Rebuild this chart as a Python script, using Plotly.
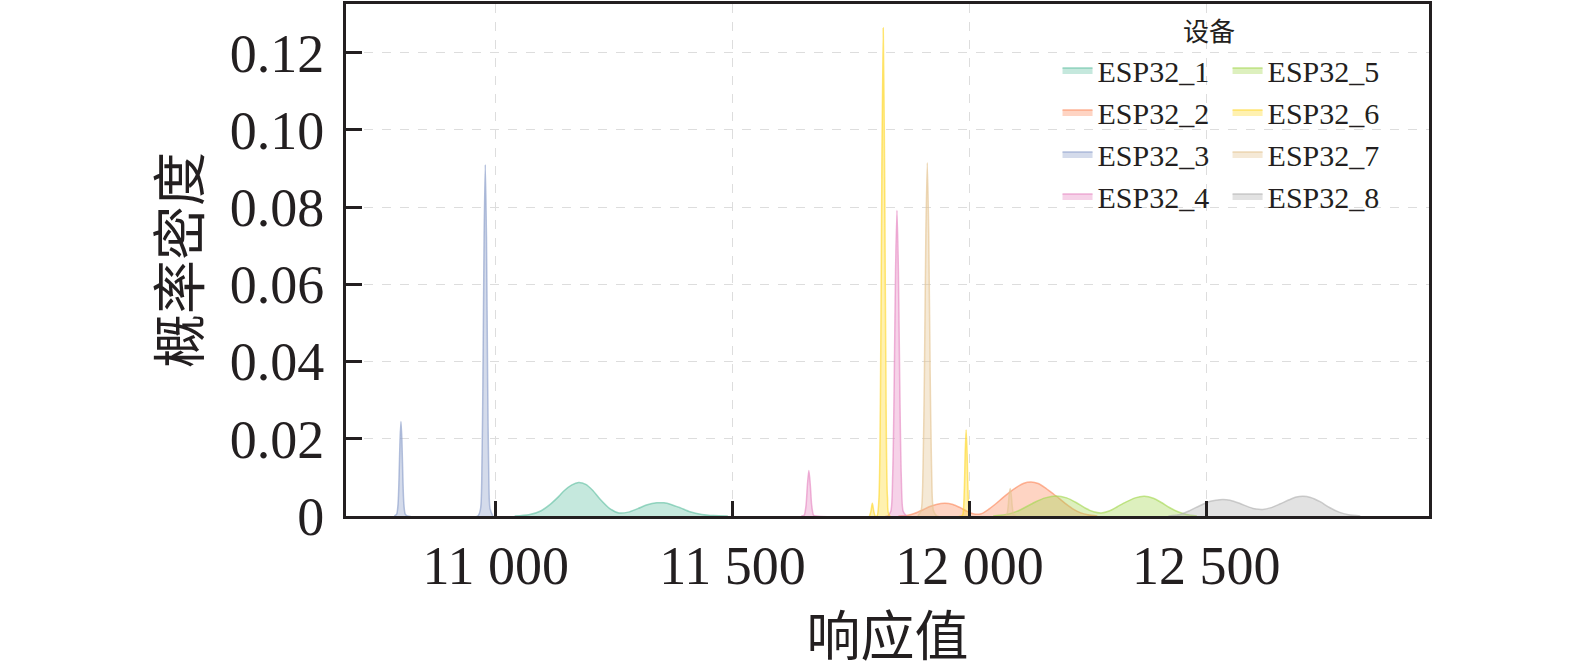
import plotly.graph_objects as go

# ---------------- data ----------------
devices = ["ESP32_1", "ESP32_2", "ESP32_3", "ESP32_4",
           "ESP32_5", "ESP32_6", "ESP32_7", "ESP32_8"]
colors = ["#66c2a5", "#fc8d62", "#8da0cb", "#e78ac3",
          "#a6d854", "#ffd92f", "#e5c494", "#b3b3b3"]

x_ticks = [11000, 11500, 12000, 12500]
x_tick_text = ["11 000", "11 500", "12 000", "12 500"]
y_ticks = [0, 0.02, 0.04, 0.06, 0.08, 0.10, 0.12]
y_tick_text = ["0", "0.02", "0.04", "0.06", "0.08", "0.10", "0.12"]

esp1_x = [11040, 11070, 11095, 11115, 11130, 11145, 11160, 11175, 11190, 11205, 11220, 11240,
          11260, 11280, 11300, 11320, 11340, 11355, 11370, 11390, 11410, 11435, 11460, 11490]
esp1_y = [0, 0.0003, 0.0013, 0.0030, 0.0047, 0.0066, 0.0080, 0.0087, 0.0082, 0.0066, 0.0044, 0.0020,
          0.0008, 0.0010, 0.0019, 0.0029, 0.0034, 0.0034, 0.0030, 0.0021, 0.0011, 0.0004, 0.0001, 0]

esp2_x = [11850, 11870, 11885, 11900, 11915, 11930, 11948, 11965, 11980, 11995, 12010, 12025,
          12040, 12055, 12070, 12085, 12100, 12115, 12130, 12145, 12160, 12175, 12190, 12205,
          12220, 12235, 12250, 12270]
esp2_y = [0, 0.0002, 0.0007, 0.0015, 0.0024, 0.0030, 0.0033, 0.0030, 0.0022, 0.0012, 0.0005, 0.0006,
          0.0017, 0.0031, 0.0047, 0.0062, 0.0075, 0.0085, 0.0088, 0.0084, 0.0073, 0.0059, 0.0045, 0.0030,
          0.0017, 0.0008, 0.0003, 0]

esp3_x = [10786, 10791, 10794, 10796, 10798, 10800, 10802, 10804, 10806, 10809, 10814,
          10962, 10968, 10971, 10973, 10975.5, 10978, 10980.5, 10983, 10985, 10988, 10994]
esp3_y = [0, 0.0005, 0.0033, 0.0100, 0.0196, 0.0245, 0.0196, 0.0100, 0.0033, 0.0005, 0,
          0, 0.0019, 0.0137, 0.0346, 0.0720, 0.0910, 0.0720, 0.0346, 0.0137, 0.0019, 0]

esp4_x = [11645, 11651, 11655, 11658, 11661, 11664, 11667, 11671, 11677,
          11827, 11834, 11838, 11841, 11844, 11847, 11850, 11853, 11856, 11860, 11867]
esp4_y = [0, 0.0002, 0.0027, 0.0081, 0.0118, 0.0081, 0.0027, 0.0002, 0,
          0, 0.0012, 0.0107, 0.0325, 0.0634, 0.0792, 0.0634, 0.0325, 0.0107, 0.0012, 0]

esp5_x = [12050, 12075, 12100, 12120, 12140, 12160, 12183, 12205, 12225, 12245, 12262, 12278,
          12295, 12312, 12330, 12350, 12369, 12388, 12405, 12422, 12440, 12458, 12480]
esp5_y = [0, 0.0003, 0.0012, 0.0024, 0.0037, 0.0047, 0.0052, 0.0047, 0.0035, 0.0020, 0.0011, 0.0008,
          0.0013, 0.0024, 0.0036, 0.0047, 0.0051, 0.0046, 0.0035, 0.0022, 0.0011, 0.0004, 0]

esp6_x = [11789, 11792, 11795, 11798, 11801,
          11805, 11809, 11812, 11815, 11818, 11821, 11824, 11827, 11832,
          11983, 11986, 11989, 11991, 11993, 11995, 11997, 12000, 12003]
esp6_y = [0, 0.0012, 0.0033, 0.0012, 0,
          0, 0.0047, 0.0290, 0.0870, 0.1264, 0.0870, 0.0290, 0.0047, 0,
          0, 0.0004, 0.0062, 0.0163, 0.0223, 0.0163, 0.0062, 0.0004, 0]

esp7_x = [11891, 11898, 11902, 11905, 11908, 11911, 11914, 11917, 11920, 11924, 11931,
          12074, 12079, 12082, 12084, 12086, 12088, 12090, 12093, 12098]
esp7_y = [0, 0.0014, 0.0124, 0.0375, 0.0732, 0.0915, 0.0732, 0.0375, 0.0124, 0.0014, 0,
          0, 0.0005, 0.0029, 0.0057, 0.0071, 0.0057, 0.0029, 0.0005, 0]

esp8_x = [12420, 12445, 12465, 12485, 12505, 12520, 12535, 12550, 12570, 12590, 12605, 12619,
          12635, 12655, 12675, 12690, 12704, 12720, 12740, 12760, 12780, 12800, 12825]
esp8_y = [0, 0.0004, 0.0014, 0.0026, 0.0037, 0.0041, 0.0043, 0.0041, 0.0033, 0.0023, 0.0018, 0.0017,
          0.0021, 0.0031, 0.0042, 0.0049, 0.0051, 0.0048, 0.0037, 0.0022, 0.0010, 0.0003, 0]

series_x = [esp1_x, esp2_x, esp3_x, esp4_x, esp5_x, esp6_x, esp7_x, esp8_x]
series_y = [esp1_y, esp2_y, esp3_y, esp4_y, esp5_y, esp6_y, esp7_y, esp8_y]

# ---------------- styling ----------------
W, H = 1575, 668
L, R, T, B = 346, 146, 1, 152
INK = "#231f20"
SERIF = "Liberation Serif, Noto Sans CJK SC, serif"


def rgba(hexc, a):
    h = hexc.lstrip("#")
    return "rgba(%d,%d,%d,%.2f)" % (int(h[0:2], 16), int(h[2:4], 16), int(h[4:6], 16), a)


fig = go.Figure()
for i, name in enumerate(devices):
    fig.add_trace(go.Scatter(
        x=series_x[i], y=series_y[i], name=name, mode="lines",
        fill="tozeroy", fillcolor=rgba(colors[i], 0.38),
        line=dict(color=rgba(colors[i], 0.65), width=1.5, shape="spline", smoothing=0.7),
        legend="legend" if i < 4 else "legend2",
        hoverinfo="x+y+name",
    ))

axis_common = dict(
    showline=True, linewidth=3, linecolor=INK, mirror=True,
    ticks="inside", tickwidth=3, tickcolor=INK,
    showgrid=True, gridcolor="#dddddd", gridwidth=1, griddash="dash",
    zeroline=False,
    tickfont=dict(family=SERIF, size=54, color=INK),
)

legend_common = dict(
    font=dict(family=SERIF, size=30, color=INK),
    bgcolor="rgba(0,0,0,0)", borderwidth=0,
    xanchor="left", yanchor="top", orientation="v",
    tracegroupgap=0,
)

fig.update_layout(
    width=W, height=H,
    margin=dict(l=L, r=R, t=T, b=B, pad=0),
    paper_bgcolor="white", plot_bgcolor="white",
    font=dict(family=SERIF, color=INK),
    xaxis=dict(
        range=[10684, 12970],
        tickmode="array", tickvals=x_ticks, ticktext=x_tick_text,
        ticklen=15, ticklabelstandoff=0,
        title=dict(text="响应值", font=dict(family=SERIF, size=54, color=INK), standoff=30),
        **axis_common,
    ),
    yaxis=dict(
        range=[0, 0.1326],
        tickmode="array", tickvals=y_ticks, ticktext=y_tick_text,
        ticklen=16, ticklabelstandoff=8,
        title=dict(text="概率密度", font=dict(family=SERIF, size=54, color=INK), standoff=12),
        **axis_common,
    ),
    legend=dict(x=0.657, y=0.922, **legend_common),
    legend2=dict(x=0.814, y=0.922, **legend_common),
    showlegend=True,
    annotations=[dict(
        text="设备", x=0.797, y=0.944, xref="paper", yref="paper",
        xanchor="center", yanchor="middle", showarrow=False,
        font=dict(family=SERIF, size=26, color=INK),
    )],
)

fig.write_html("out.html", config={"displayModeBar": False},
               post_script="document.body.style.margin='0';")
